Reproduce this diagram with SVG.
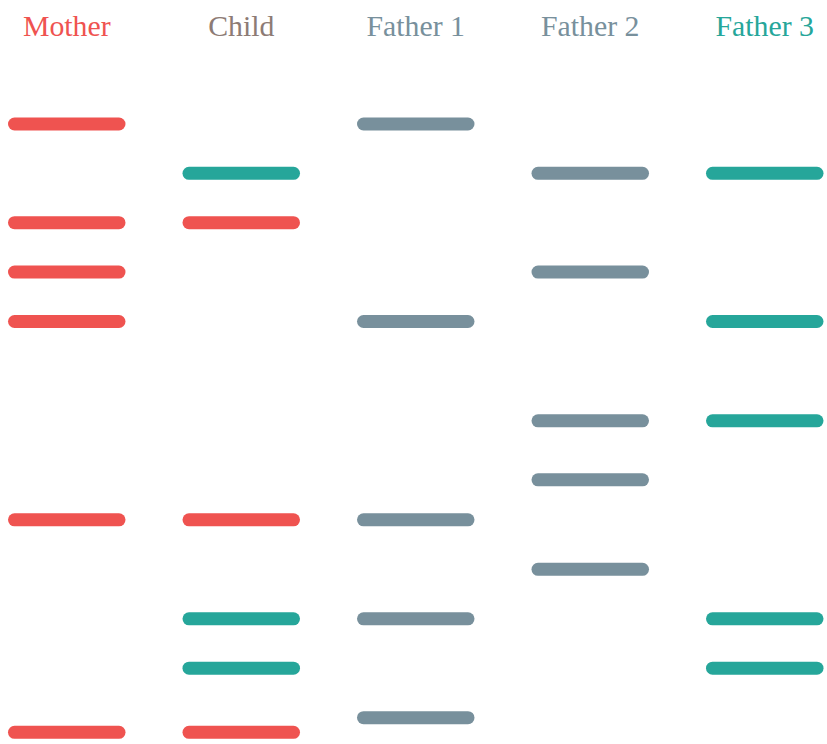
<svg xmlns="http://www.w3.org/2000/svg" width="827" height="744" viewBox="0 0 827 744">
  <style>
    .label { font-family: "Liberation Serif", "DejaVu Serif", serif; font-size: 29.8px; text-anchor: middle; }
    .red { fill: #ef5350; }
    .teal { fill: #26a69a; }
    .grey { fill: #78909c; }
  </style>
  <rect width="827" height="744" fill="#ffffff"/>

  <!-- Mother lane -->
  <g id="mother">
    <text class="label" x="66.75" y="36" fill="#ef5350">Mother</text>
    <rect class="red" x="8" y="117.5" width="117.5" height="13" rx="6.5"/>
    <rect class="red" x="8" y="216.2" width="117.5" height="13" rx="6.5"/>
    <rect class="red" x="8" y="265.6" width="117.5" height="13" rx="6.5"/>
    <rect class="red" x="8" y="315" width="117.5" height="13" rx="6.5"/>
    <rect class="red" x="8" y="513.3" width="117.5" height="13" rx="6.5"/>
    <rect class="red" x="8" y="725.8" width="117.5" height="13" rx="6.5"/>
  </g>

  <!-- Child lane -->
  <g id="child">
    <text class="label" x="241.25" y="36" fill="#8d7b75">Child</text>
    <rect class="teal" x="182.5" y="166.8" width="117.5" height="13" rx="6.5"/>
    <rect class="red" x="182.5" y="216.2" width="117.5" height="13" rx="6.5"/>
    <rect class="red" x="182.5" y="513.3" width="117.5" height="13" rx="6.5"/>
    <rect class="teal" x="182.5" y="612.3" width="117.5" height="13" rx="6.5"/>
    <rect class="teal" x="182.5" y="661.7" width="117.5" height="13" rx="6.5"/>
    <rect class="red" x="182.5" y="725.8" width="117.5" height="13" rx="6.5"/>
  </g>

  <!-- Father 1 lane -->
  <g id="father1">
    <text class="label" x="415.75" y="36" fill="#78909c">Father 1</text>
    <rect class="grey" x="357" y="117.5" width="117.5" height="13" rx="6.5"/>
    <rect class="grey" x="357" y="315" width="117.5" height="13" rx="6.5"/>
    <rect class="grey" x="357" y="513.3" width="117.5" height="13" rx="6.5"/>
    <rect class="grey" x="357" y="612.3" width="117.5" height="13" rx="6.5"/>
    <rect class="grey" x="357" y="711.2" width="117.5" height="13" rx="6.5"/>
  </g>

  <!-- Father 2 lane -->
  <g id="father2">
    <text class="label" x="590.25" y="36" fill="#78909c">Father 2</text>
    <rect class="grey" x="531.5" y="166.8" width="117.5" height="13" rx="6.5"/>
    <rect class="grey" x="531.5" y="265.6" width="117.5" height="13" rx="6.5"/>
    <rect class="grey" x="531.5" y="414.3" width="117.5" height="13" rx="6.5"/>
    <rect class="grey" x="531.5" y="473.3" width="117.5" height="13" rx="6.5"/>
    <rect class="grey" x="531.5" y="562.8" width="117.5" height="13" rx="6.5"/>
  </g>

  <!-- Father 3 lane -->
  <g id="father3">
    <text class="label" x="764.75" y="36" fill="#26a69a">Father 3</text>
    <rect class="teal" x="706" y="166.8" width="117.5" height="13" rx="6.5"/>
    <rect class="teal" x="706" y="315" width="117.5" height="13" rx="6.5"/>
    <rect class="teal" x="706" y="414.3" width="117.5" height="13" rx="6.5"/>
    <rect class="teal" x="706" y="612.3" width="117.5" height="13" rx="6.5"/>
    <rect class="teal" x="706" y="661.7" width="117.5" height="13" rx="6.5"/>
  </g>

  <!-- no connectors in this chart -->
  <g id="connectors"/>
</svg>
